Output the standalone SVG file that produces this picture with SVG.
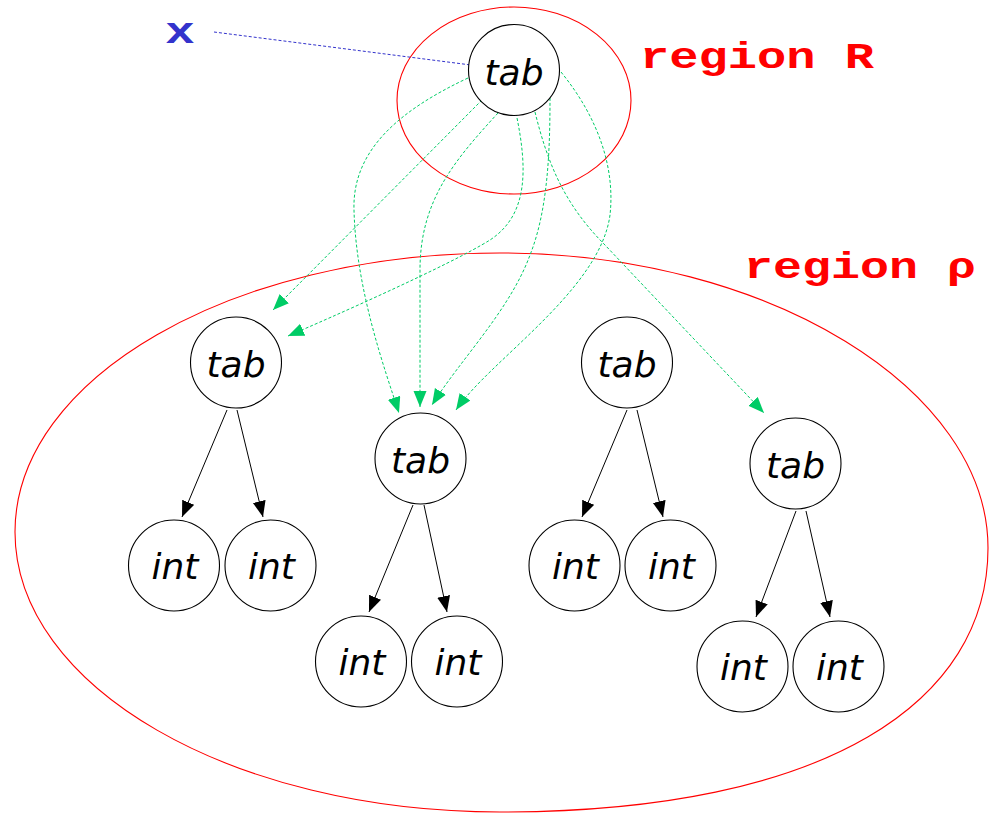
<svg xmlns="http://www.w3.org/2000/svg" width="989" height="813" viewBox="0 0 989 813">
  <style>
    .bg { fill: #ffffff; }
    .region { fill: none; stroke: #ff0000; stroke-width: 1.1; }
    .node circle { fill: #ffffff; stroke: #000000; stroke-width: 1.1; }
    .node text { font-family: "DejaVu Sans", "Noto Sans", sans-serif; font-style: italic; font-size: 36px; fill: #000000; text-anchor: middle; }
    .rlabel { font-family: "Liberation Mono", "DejaVu Sans Mono", monospace; font-weight: bold; font-size: 37px; fill: #ff0000; }
    .var { font-family: "Liberation Mono", "DejaVu Sans Mono", monospace; font-weight: bold; font-size: 37px; fill: #3333cc; }
    .edge { fill: none; stroke: #000000; stroke-width: 1; marker-end: url(#headBlack); }
    .ptr { fill: none; stroke: #00cc66; stroke-width: 1; stroke-dasharray: 3 2; marker-end: url(#headGreen); }
    .bind { fill: none; stroke: #3333cc; stroke-width: 1; stroke-dasharray: 3 2; }
  </style>
  <defs>
    <marker id="headBlack" markerUnits="userSpaceOnUse" markerWidth="17" markerHeight="14" refX="16" refY="6.5" orient="auto">
      <path d="M0,0 L16,6.5 L0,13 Z" fill="#000000"/>
    </marker>
    <marker id="headGreen" markerUnits="userSpaceOnUse" markerWidth="17" markerHeight="14" refX="16" refY="6.5" orient="auto">
      <path d="M0,0 L16,6.5 L0,13 Z" fill="#00cc66"/>
    </marker>
  </defs>

  <rect class="bg" x="0" y="0" width="989" height="813"/>

  <!-- regions -->
  <g id="regions">
    <ellipse id="region-R" class="region" cx="514" cy="100.5" rx="117" ry="93.5"/>
    <path id="region-rho" class="region" d="M15,532 C15,378 232,253 500,253 C770,253 988,390 988,548 C988,700 830,812 500,812 C232,812 15,687 15,532 Z"/>
    <text class="rlabel" x="640" y="68" textLength="234" lengthAdjust="spacingAndGlyphs">region R</text>
    <text class="rlabel" x="744" y="278" textLength="232" lengthAdjust="spacingAndGlyphs">region ρ</text>
  </g>

  <!-- variable binding -->
  <g id="var-x">
    <text class="var" x="165" y="43" textLength="30" lengthAdjust="spacingAndGlyphs">x</text>
  </g>

  <!-- connectors -->
  <g id="connectors">
    <path class="bind" d="M214,32 L471,65"/>

    <!-- pointers from the outer tab into region rho -->
    <path class="ptr" d="M468,78 C400,110 352,150 354,210 C356,290 385,370 399,413"/>
    <path class="ptr" d="M482,100 L273,310"/>
    <path class="ptr" d="M498,113 C455,160 420,200 420,270 L420,407"/>
    <path class="ptr" d="M516,113 C528,170 528,215 490,240 C450,265 330,318 288,336"/>
    <path class="ptr" d="M535,112 C548,165 565,205 605,245 L764,413"/>
    <path class="ptr" d="M550,98 C550,150 548,210 530,255 C510,310 460,360 432,405"/>
    <path class="ptr" d="M561,72 C600,120 615,170 610,215 C600,290 490,360 456,410"/>

    <!-- tab -> int children -->
    <path class="edge" d="M227,410 L182,517"/>
    <path class="edge" d="M237,410 L263,517"/>
    <path class="edge" d="M413,505 L369,612"/>
    <path class="edge" d="M424,505 L447,612"/>
    <path class="edge" d="M627,410 L582,517"/>
    <path class="edge" d="M637,410 L663,517"/>
    <path class="edge" d="M796,511 L756,617"/>
    <path class="edge" d="M806,511 L830,617"/>
  </g>

  <!-- nodes -->
  <g id="tab-root" class="node"><circle cx="514" cy="70" r="45.5"/><text x="514" y="84.5">tab</text></g>

  <g id="tab-1" class="node"><circle cx="236" cy="362.5" r="45.5"/><text x="236" y="377">tab</text></g>
  <g id="int-1a" class="node"><circle cx="174" cy="565.5" r="45.5"/><text x="175" y="579">int</text></g>
  <g id="int-1b" class="node"><circle cx="270.5" cy="565.5" r="45.5"/><text x="271.5" y="579">int</text></g>

  <g id="tab-2" class="node"><circle cx="420.5" cy="458.5" r="45.5"/><text x="420.5" y="473">tab</text></g>
  <g id="int-2a" class="node"><circle cx="361" cy="661.5" r="45.5"/><text x="362" y="675">int</text></g>
  <g id="int-2b" class="node"><circle cx="457" cy="661.5" r="45.5"/><text x="458" y="675">int</text></g>

  <g id="tab-3" class="node"><circle cx="627" cy="362.5" r="45.5"/><text x="627" y="377">tab</text></g>
  <g id="int-3a" class="node"><circle cx="574.5" cy="565.5" r="45.5"/><text x="575.5" y="579">int</text></g>
  <g id="int-3b" class="node"><circle cx="670.5" cy="565.5" r="45.5"/><text x="671.5" y="579">int</text></g>

  <g id="tab-4" class="node"><circle cx="795.5" cy="463.5" r="45.5"/><text x="795.5" y="478">tab</text></g>
  <g id="int-4a" class="node"><circle cx="742.5" cy="666.5" r="45.5"/><text x="743.5" y="680">int</text></g>
  <g id="int-4b" class="node"><circle cx="838.5" cy="666.5" r="45.5"/><text x="839.5" y="680">int</text></g>
</svg>
